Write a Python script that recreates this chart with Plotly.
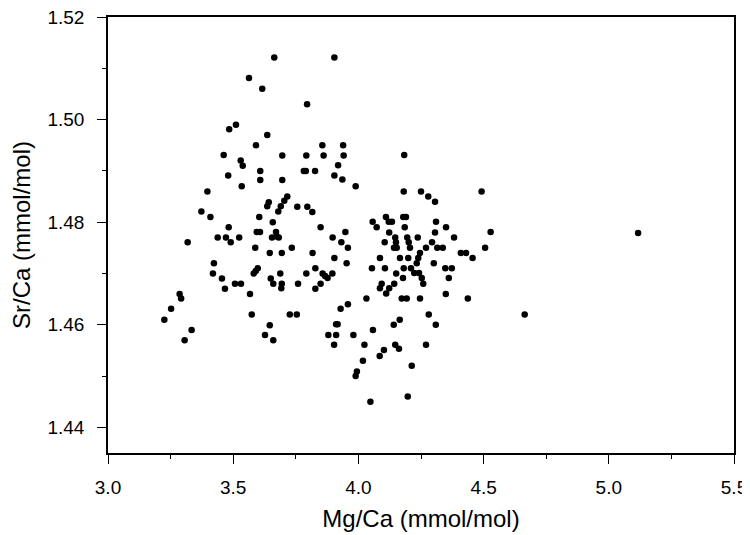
import plotly.graph_objects as go

# Mg/Ca vs Sr/Ca (mmol/mol)
mg_ca = [
    3.664, 3.904, 3.563, 3.616, 3.795, 3.484, 3.511, 3.636, 3.591, 3.856,
    3.939, 3.462, 3.696, 3.792, 3.861, 3.941, 3.530, 3.538, 3.919, 3.480,
    3.608, 3.782, 3.790, 3.827, 3.904, 3.936, 3.608, 3.696, 4.183, 3.534,
    3.397, 3.642, 3.636, 3.716, 3.704, 3.690, 3.680, 3.756, 3.796, 3.816,
    3.373, 3.409, 3.604, 3.658, 3.482, 3.849, 3.594, 3.607, 3.948, 3.671,
    3.674, 3.655, 3.682, 3.438, 3.471, 3.490, 3.524, 3.897, 3.318, 3.932,
    3.588, 3.734, 3.958, 3.646, 3.694, 3.817, 3.904, 3.423, 3.953, 3.598,
    3.590, 3.582, 3.419, 3.688, 3.792, 3.828, 3.857, 3.867, 3.877, 3.896,
    3.455, 3.650, 3.660, 3.694, 3.692, 3.507, 3.531, 3.759, 3.849, 3.467,
    3.828, 3.567, 3.286, 3.292, 3.252, 3.958, 3.929, 3.574, 3.726, 3.754,
    3.225, 3.911, 3.917, 3.646, 3.334, 3.627, 3.880, 3.911, 3.306, 3.660,
    3.903, 3.989, 4.181, 4.250, 4.279, 4.306, 4.492, 4.110, 4.121, 4.134,
    4.179, 4.190, 4.057, 4.073, 4.185, 4.310, 4.350, 4.123, 4.306, 4.528,
    4.382, 4.237, 4.147, 4.150, 4.142, 4.153, 4.195, 4.201, 4.206, 4.105,
    4.294, 4.315, 4.337, 4.270, 4.246, 4.239, 4.233, 4.409, 4.430, 4.506,
    4.456, 4.086, 4.166, 4.199, 4.301, 4.054, 4.106, 4.181, 4.210, 4.223,
    4.242, 4.253, 4.259, 4.347, 4.373, 4.151, 4.361, 4.178, 4.143, 4.093,
    4.086, 4.123, 4.111, 4.032, 4.173, 4.193, 4.246, 4.349, 4.437, 4.281,
    4.664, 4.165, 4.141, 4.309, 4.058, 3.980, 4.024, 4.147, 4.162, 4.270,
    4.102, 4.085, 4.018, 3.994, 3.989, 4.213, 4.048, 4.197, 5.117,
]
sr_ca = [
    1.5121, 1.5121, 1.5081, 1.5060, 1.5030, 1.4981, 1.4990, 1.4970, 1.4950, 1.4950,
    1.4950, 1.4931, 1.4930, 1.4930, 1.4930, 1.4930, 1.4920, 1.4910, 1.4911, 1.4891,
    1.4900, 1.4900, 1.4900, 1.4900, 1.4891, 1.4883, 1.4882, 1.4882, 1.4931, 1.4870,
    1.4860, 1.4839, 1.4831, 1.4850, 1.4842, 1.4831, 1.4821, 1.4830, 1.4830, 1.4820,
    1.4821, 1.4810, 1.4810, 1.4800, 1.4790, 1.4790, 1.4781, 1.4781, 1.4781, 1.4781,
    1.4772, 1.4770, 1.4770, 1.4770, 1.4770, 1.4761, 1.4770, 1.4770, 1.4761, 1.4761,
    1.4750, 1.4750, 1.4750, 1.4740, 1.4740, 1.4740, 1.4730, 1.4720, 1.4720, 1.4710,
    1.4705, 1.4700, 1.4700, 1.4700, 1.4700, 1.4710, 1.4700, 1.4695, 1.4691, 1.4700,
    1.4690, 1.4690, 1.4680, 1.4680, 1.4671, 1.4680, 1.4680, 1.4680, 1.4680, 1.4670,
    1.4670, 1.4660, 1.4660, 1.4651, 1.4631, 1.4640, 1.4631, 1.4620, 1.4620, 1.4620,
    1.4610, 1.4601, 1.4601, 1.4599, 1.4590, 1.4580, 1.4580, 1.4580, 1.4570, 1.4570,
    1.4561, 1.4870, 1.4860, 1.4860, 1.4850, 1.4840, 1.4860, 1.4810, 1.4801, 1.4801,
    1.4810, 1.4810, 1.4801, 1.4790, 1.4790, 1.4801, 1.4790, 1.4780, 1.4780, 1.4781,
    1.4770, 1.4770, 1.4770, 1.4761, 1.4750, 1.4750, 1.4770, 1.4761, 1.4750, 1.4761,
    1.4761, 1.4750, 1.4750, 1.4750, 1.4740, 1.4730, 1.4720, 1.4740, 1.4740, 1.4750,
    1.4730, 1.4730, 1.4730, 1.4730, 1.4720, 1.4710, 1.4710, 1.4710, 1.4710, 1.4701,
    1.4701, 1.4691, 1.4680, 1.4710, 1.4710, 1.4700, 1.4691, 1.4691, 1.4680, 1.4680,
    1.4671, 1.4671, 1.4661, 1.4651, 1.4651, 1.4651, 1.4651, 1.4660, 1.4651, 1.4620,
    1.4620, 1.4610, 1.4600, 1.4600, 1.4590, 1.4580, 1.4561, 1.4561, 1.4553, 1.4561,
    1.4551, 1.4539, 1.4530, 1.4509, 1.4500, 1.4520, 1.4450, 1.4460, 1.4779,
]

x_ticks = [3.0, 3.5, 4.0, 4.5, 5.0, 5.5]
y_ticks = [1.44, 1.46, 1.48, 1.50, 1.52]

fig = go.Figure()
fig.add_trace(go.Scatter(
    x=mg_ca, y=sr_ca, mode="markers",
    marker=dict(color="black", size=6.5),
    showlegend=False,
))

font = "Liberation Sans, Arial, Helvetica, sans-serif"
axis_common = dict(
    showline=True, linecolor="black", linewidth=1.6, mirror=True,
    showgrid=False, zeroline=False, automargin=False,
    ticks="outside", ticklen=9, tickwidth=1.3, tickcolor="black",
    tickfont=dict(family=font, size=19, color="black"),
    ticklabeloverflow="allow",
)
minor_ticks = dict(ticks="outside", ticklen=4, tickwidth=1.2, tickcolor="black")

fig.update_xaxes(
    range=[3.0, 5.5], tickvals=x_ticks, ticktext=[f"{v:.1f}" for v in x_ticks],
    minor=dict(dtick=0.25, **minor_ticks),
    ticklabelstandoff=7,
    title=dict(text="Mg/Ca (mmol/mol)", font=dict(family=font, size=24, color="black"), standoff=14),
    **axis_common,
)
fig.update_yaxes(
    range=[1.435, 1.52], tickvals=y_ticks, ticktext=[f"{v:.2f}" for v in y_ticks],
    minor=dict(dtick=0.01, **minor_ticks),
    ticklabelstandoff=9,
    title=dict(text="Sr/Ca (mmol/mol)", font=dict(family=font, size=24, color="black"), standoff=14),
    **axis_common,
)

# page body adds an 8px margin, so the figure is 8px smaller than the window
fig.update_layout(
    width=742, height=529,
    margin=dict(l=100, r=16, t=9, b=84),
    paper_bgcolor="white", plot_bgcolor="white",
)

fig.write_html("out.html")
